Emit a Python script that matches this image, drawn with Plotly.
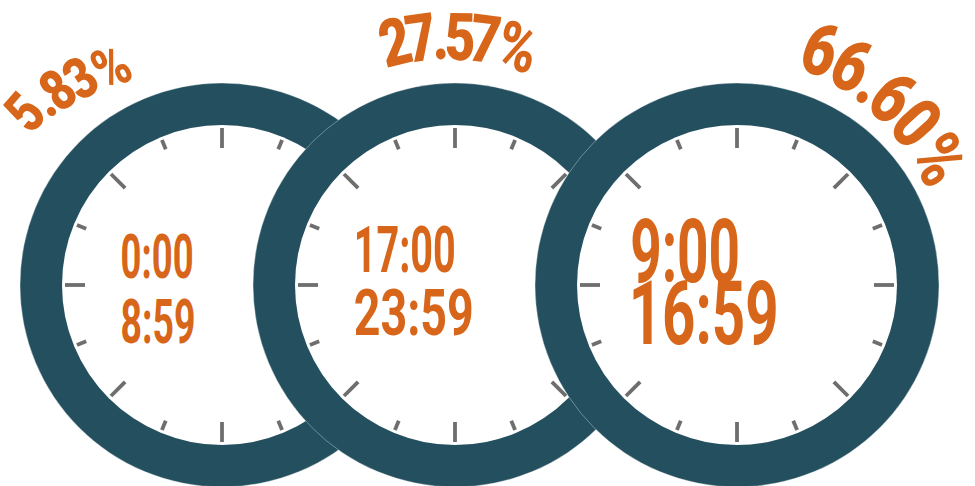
import json
import numpy as np
import plotly.graph_objects as go

# ---- data ----
period_start = ["0:00", "17:00", "9:00"]
period_end = ["8:59", "23:59", "16:59"]
shares = [5.83, 27.57, 66.60]

# ---- layout / style ----
W, H = 975, 486
RING = "#234F5E"
ORANGE = "#D8661A"
TICK = "#6E6E6E"
centers_x = [222, 455, 737]
center_y = 285
R_OUT, R_IN = 202, 160

FONT = "Roboto, Liberation Sans, Noto Sans, sans-serif"
PCT_SQUEEZE = 0.80    # horizontal condensing of the percentage labels

time_cx = [(157, 158), (404, 413), (685, 703)]
time_y = [(257, 322), (250, 313), (251, 313)]
time_w = [(73, 75), (102, 120), (110, 150)]   # rendered (condensed) widths, px
time_size = [61, 65, 89]

# arc label geometry: (first char centre r, theta), (last char centre r, theta), font size
arc_geom = [
    ((262, -48.7), (244, -26.8), 58),
    ((250, -13.9), (246, 14.8), 66),
    ((249, 19.5), (238, 58.3), 73),
]
char_w = {".": 0.228, "%": 0.729}

shapes = []
annotations = []
squeeze = []   # [mode, value]: 'w' absolute width, 'k' factor

for i, cx in enumerate(centers_x):
    shapes.append(dict(type="circle", xref="x", yref="y",
                       x0=cx - R_OUT, x1=cx + R_OUT, y0=center_y - R_OUT, y1=center_y + R_OUT,
                       fillcolor=RING, line=dict(color="rgba(255,255,255,0.35)", width=1)))
    shapes.append(dict(type="circle", xref="x", yref="y",
                       x0=cx - R_IN, x1=cx + R_IN, y0=center_y - R_IN, y1=center_y + R_IN,
                       fillcolor="white", line=dict(width=0)))
    for k in range(16):
        a = np.deg2rad(k * 22.5)
        r0 = 137 if k % 2 == 0 else 147
        r1 = 157
        shapes.append(dict(type="line", xref="x", yref="y",
                           x0=cx + r0 * np.sin(a), y0=center_y - r0 * np.cos(a),
                           x1=cx + r1 * np.sin(a), y1=center_y - r1 * np.cos(a),
                           line=dict(color=TICK, width=3.8)))

for i, cx in enumerate(centers_x):
    for txt, xx, yy, ww in zip((period_start[i], period_end[i]), time_cx[i], time_y[i], time_w[i]):
        annotations.append(dict(x=xx, y=yy, xref="x", yref="y", text=txt,
                                showarrow=False, xanchor="center", yanchor="middle",
                                font=dict(family=FONT, size=time_size[i], color=ORANGE, weight=700)))
        squeeze.append(["w", ww])
    label = f"{shares[i]:.2f}%"
    (r_a, t_a), (r_b, t_b), fs = arc_geom[i]
    widths = [char_w.get(ch, 0.456) for ch in label]
    s = np.cumsum(widths) - np.array(widths) / 2
    f = (s - s[0]) / (s[-1] - s[0])
    for ch, fr in zip(label, f):
        th = t_a + fr * (t_b - t_a)
        rr = r_a + fr * (r_b - r_a)
        a = np.deg2rad(th)
        annotations.append(dict(x=cx + rr * np.sin(a), y=center_y - rr * np.cos(a),
                                xref="x", yref="y", text=ch, showarrow=False,
                                xanchor="center", yanchor="middle", textangle=th,
                                font=dict(family=FONT, size=fs, color=ORANGE, weight=900)))
        squeeze.append(["k", PCT_SQUEEZE])

fig = go.Figure(go.Scatter(x=[0, W], y=[0, H], mode="markers", marker=dict(opacity=0), hoverinfo="skip"))
fig.update_layout(width=W, height=H, margin=dict(l=0, r=0, t=0, b=0),
                  paper_bgcolor="white", plot_bgcolor="white", showlegend=False,
                  shapes=shapes, annotations=annotations,
                  xaxis=dict(range=[0, W], visible=False, fixedrange=True),
                  yaxis=dict(range=[H, 0], visible=False, fixedrange=True))

post = """
document.body.style.margin='0px';document.body.style.overflow='hidden';
var gd = document.getElementById('{plot_id}');
var ks = %s;
function squeezeText(){
  var anns = gd.querySelectorAll('g.annotation');
  anns.forEach(function(a, i){
    var t = a.querySelector('text.annotation-text');
    if(!t || t.getAttribute('data-sq')) return;
    var w = t.getComputedTextLength();
    var target = ks[i][0] === 'w' ? ks[i][1] : w * ks[i][1];
    t.setAttribute('textLength', target.toFixed(2));
    t.setAttribute('lengthAdjust', 'spacingAndGlyphs');
    t.setAttribute('data-sq', '1');
  });
}
squeezeText();
gd.on('plotly_afterplot', squeezeText);
setTimeout(squeezeText, 50);
""" % json.dumps(squeeze)

fig.write_html("out.html", config=dict(displayModeBar=False), post_script=post)
